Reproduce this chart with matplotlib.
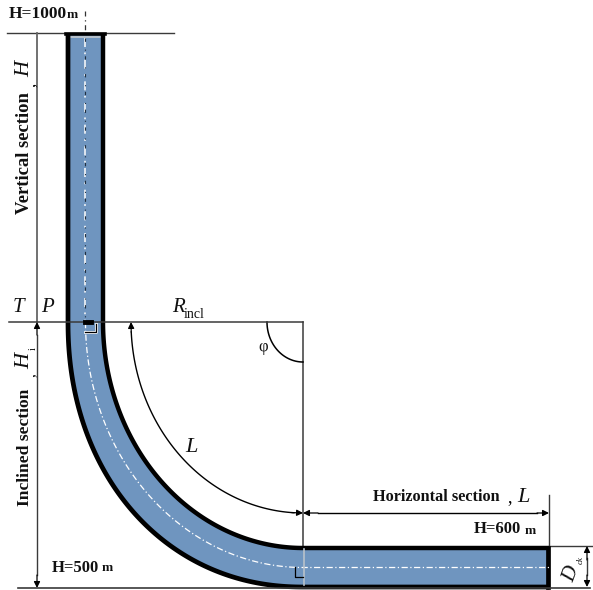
import matplotlib
matplotlib.use("Agg")
import matplotlib.pyplot as plt
import numpy as np

# well geometry in pixels
WELL_TOP = 33
BEND_Y = 322
BEND_X = 303
WELL_END = 549
OUTER_LEFT, INNER_LEFT = 68, 103
OUTER_BOTTOM, INNER_BOTTOM = 587, 548
GROUND_Y = 588
DIM_X = 37

BLUE = "#6f95bf"
LINE = "#3a3a3a"
SERIF = "Liberation Serif"


def arc(rx, ry, p=1.0, n=120):
    # quarter ellipse from the left of the bend centre down to below it
    t = np.linspace(0, np.pi / 2, n)
    return BEND_X - rx * np.cos(t) ** p, BEND_Y + ry * np.sin(t) ** p


def well_path(left, bottom, p=1.0):
    xa, ya = arc(BEND_X - left, bottom - BEND_Y, p)
    x = np.concatenate([[left], xa, [WELL_END]])
    y = np.concatenate([[WELL_TOP], ya, [bottom]])
    return x, y


def dim_arrow(ax, p0, p1, style="-|>", lw=0.9):
    ax.annotate("", xy=p1, xytext=p0,
                arrowprops=dict(arrowstyle=style, color="black", lw=lw,
                                shrinkA=0, shrinkB=0, mutation_scale=9))


fig = plt.figure(figsize=(5.93, 5.90), dpi=100)
ax = fig.add_axes([0, 0, 1, 1])
ax.set_xlim(0, 593)
ax.set_ylim(590, 0)
ax.axis("off")

# body of the well
xo, yo = well_path(OUTER_LEFT, OUTER_BOTTOM, 0.95)
xi, yi = well_path(INNER_LEFT, INNER_BOTTOM)
ax.fill(np.concatenate([xo, xi[::-1]]), np.concatenate([yo, yi[::-1]]), color=BLUE, lw=0, zorder=1)
ax.plot(xo, yo, color="black", lw=3.4, zorder=3, solid_capstyle="butt")
ax.plot(xi, yi, color="black", lw=3.2, zorder=3, solid_capstyle="butt")
ax.plot([66, 105], [WELL_TOP + 1, WELL_TOP + 1], color="black", lw=2.6, zorder=3)
ax.plot([WELL_END - 1, WELL_END - 1], [INNER_BOTTOM, OUTER_BOTTOM], color="black", lw=3.4, zorder=3)
ax.plot([OUTER_LEFT + 3, INNER_LEFT - 3], [WELL_TOP + 4, WELL_TOP + 4], color="#c4c9ce", lw=1.2, zorder=2)

# centre line
xc, yc = well_path((OUTER_LEFT + INNER_LEFT) / 2, (OUTER_BOTTOM + INNER_BOTTOM) / 2)
ax.plot(xc[1:], yc[1:], color="white", lw=0.9, ls=(0, (5, 2, 1, 2)), zorder=4)
ax.plot([85, 85], [WELL_TOP + 5, BEND_Y], color="#e8edf2", lw=1.3, ls=(0, (5, 3, 1, 3)), zorder=4)
ax.plot([85, 85], [WELL_TOP + 5, BEND_Y], color="#22303f", lw=0.8, ls=(0, (3, 7, 1, 5)), zorder=4)
ax.plot([85, 85], [11, 30], color="#333333", lw=0.9, ls=(0, (4, 3, 1, 3)), zorder=4)

# thin construction lines
ax.plot([7, 174], [WELL_TOP, WELL_TOP], color=LINE, lw=1.0, zorder=2)
ax.plot([9, BEND_X], [BEND_Y, BEND_Y], color=LINE, lw=1.1, zorder=5)
ax.plot([18, 590], [GROUND_Y, GROUND_Y], color=LINE, lw=1.2, zorder=5)
ax.plot([BEND_X, BEND_X], [BEND_Y, 547], color=LINE, lw=1.1, zorder=2)
ax.plot([BEND_X + 1, BEND_X + 1], [549, 585], color="#b9c2cb", lw=1.2, zorder=4)
ax.plot([WELL_END, WELL_END], [495, 546], color=LINE, lw=1.0)
ax.plot([WELL_END, 593], [546, 546], color=LINE, lw=1.0)
ax.plot([DIM_X, DIM_X], [WELL_TOP, BEND_Y], color="#666666", lw=1.3)

# dimension arrows
dim_arrow(ax, (DIM_X, 335), (DIM_X, BEND_Y))
ax.plot([DIM_X, DIM_X], [335, 575], color=LINE, lw=1.0)
dim_arrow(ax, (DIM_X, 575), (DIM_X, GROUND_Y))
dim_arrow(ax, (BEND_X + 15, 513), (BEND_X, 513))
ax.plot([BEND_X + 15, WELL_END - 12], [513, 513], color="black", lw=1.0)
dim_arrow(ax, (WELL_END - 12, 513), (WELL_END, 513))
dim_arrow(ax, (587, 560), (587, 546))
ax.plot([587, 587], [558, 575], color=LINE, lw=1.0)
dim_arrow(ax, (587, 575), (587, 587))

# arc L and angle
xl, yl = arc(172, 191)
ax.plot(xl[4:-4], yl[4:-4], color="black", lw=1.0, zorder=2)
dim_arrow(ax, (xl[4], yl[4]), (xl[0], yl[0]))
dim_arrow(ax, (xl[-6], yl[-6]), (xl[-1], yl[-1]))
xp, yp = arc(36, 40)
ax.plot(xp, yp, color="black", lw=1.1)

# right angle marks
ax.plot([85, 96, 96], [332, 332, 324], color="white", lw=2.0, zorder=5)
ax.plot([85, 96, 96], [332, 332, 324], color="black", lw=0.9, zorder=5)
ax.plot([85, 91], [BEND_Y, BEND_Y], color="black", lw=3.5, zorder=5)
ax.plot([295, 295, BEND_X], [567, 577, 577], color="black", lw=0.9, zorder=5)


# labels
def bold(x, y, s, size=12, **kw):
    ax.text(x, y, s, family=SERIF, weight="bold", fontsize=size, color="#111111",
            ha="center", va="center", **kw)


def ital(x, y, s, size=13, **kw):
    ax.text(x, y, s, family=SERIF, style="italic", fontsize=size, color="#111111",
            ha="center", va="center", **kw)


ax.text(9, 14, "H=1000", family=SERIF, weight="bold", fontsize=12.5, va="center", color="#111111")
bold(72, 15, "m", 9.5)
ax.text(52, 568, "H=500", family=SERIF, weight="bold", fontsize=12, va="center", color="#111111")
bold(107, 568, "m", 9.5)
ax.text(474, 529, "H=600", family=SERIF, weight="bold", fontsize=12, va="center", color="#111111")
bold(530, 531, "m", 9.5)
bold(25, 153, "Vertical section", 13.4, rotation=90)
bold(25, 447, "Inclined section", 12.6, rotation=90)
ital(25, 69, "H", 16, rotation=90)
ax.text(31, 85, ",", family=SERIF, fontsize=12, rotation=90, ha="center", va="center")
ital(25, 361, "H", 16, rotation=90)
ax.text(33, 349, "i", family=SERIF, fontsize=7, rotation=90, ha="center", va="center")
ax.text(31, 375, ",", family=SERIF, fontsize=11, rotation=90, ha="center", va="center")
ital(18, 307, "T", 15)
ital(47, 307, "P", 15)
ital(178, 308, "R", 15)
ax.text(184, 315, "incl", family=SERIF, fontsize=10, va="center", color="#111111")
ax.text(263, 347, "φ", family=SERIF, fontsize=12, ha="center", va="center", color="#111111")
ital(191, 447, "L", 16)
bold(436.5, 497, "Horizontal section", 11.7)
ital(523, 497, "L", 16)
ax.text(510, 498, ",", family=SERIF, fontsize=13, ha="center", va="center")
ital(572, 574, "D", 15, rotation=70)
ital(581, 560, "ck", 6.5, rotation=90)

fig.savefig("out.png", dpi=100)
